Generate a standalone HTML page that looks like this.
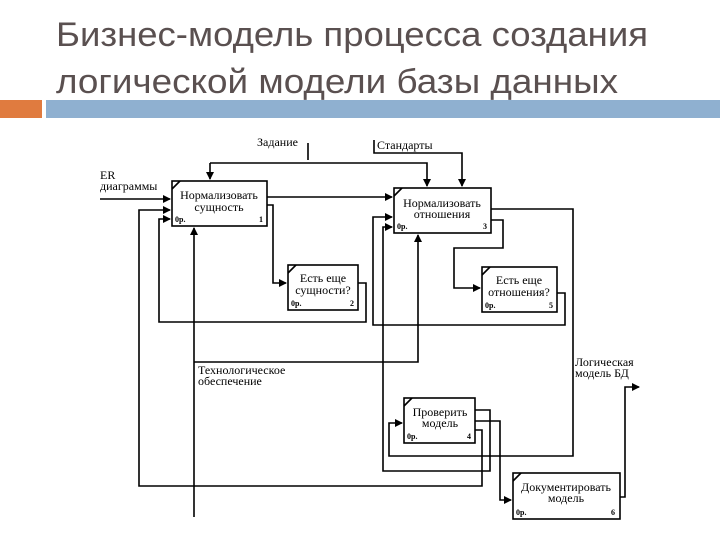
<!DOCTYPE html>
<html><head><meta charset="utf-8"><style>
body{margin:0;background:#fff}
svg{display:block}
.t{font-family:"Liberation Sans","DejaVu Sans",sans-serif;fill:#5a5050;font-size:34px}
.d{font-family:"Liberation Serif",serif;font-size:12px;fill:#000}
.s{font-family:"Liberation Serif",serif;font-size:8px;fill:#000;font-weight:bold}
</style></head><body>
<svg width="720" height="540" viewBox="0 0 720 540" xmlns="http://www.w3.org/2000/svg">
<defs><marker id="a" markerWidth="8" markerHeight="8" refX="7" refY="4" orient="auto" markerUnits="userSpaceOnUse"><path d="M0,0 L8,4 L0,8 Z" fill="#000"/></marker></defs>
<text class="t" x="56" y="46" textLength="592" lengthAdjust="spacingAndGlyphs">Бизнес-модель процесса создания</text>
<text class="t" x="56" y="93" textLength="562" lengthAdjust="spacingAndGlyphs">логической модели базы данных</text>
<rect x="0" y="100" width="42" height="18" fill="#e07b3f"/>
<rect x="46" y="100" width="674" height="18" fill="#8fb0d0"/>
<g fill="none" stroke="#000" stroke-width="1.6">
<rect x="172" y="181" width="95" height="45"/>
<rect x="288" y="265" width="70" height="45"/>
<rect x="394" y="188" width="97" height="45"/>
<rect x="482" y="267" width="75" height="45"/>
<rect x="404" y="398" width="71" height="45"/>
<rect x="513" y="473" width="107" height="46"/>
<path d="M172,189 L180,181 M288,273 L296,265 M394,196 L402,188 M482,275 L490,267 M404,406 L412,398 M513,481 L521,473"/>
<path d="M308,143 V160 M210,163 H427 V186" marker-end="url(#a)"/>
<path d="M210,163 V179" marker-end="url(#a)"/>
<path d="M374,140 V153 H462 V186" marker-end="url(#a)"/>
<path d="M100,199 H170" marker-end="url(#a)"/>
<path d="M267,197 H392" marker-end="url(#a)"/>
<path d="M267,205 H273 V283 H286" marker-end="url(#a)"/>
<path d="M358,283 H366 V322 H159 V219 H170" marker-end="url(#a)"/>
<path d="M475,430 H482 V486 H139 V210 H170" marker-end="url(#a)"/>
<path d="M194,517 V228" marker-end="url(#a)"/>
<path d="M194,362 H418 V235" marker-end="url(#a)"/>
<path d="M491,220 H503 V248 H454 V288 H480" marker-end="url(#a)"/>
<path d="M557,293 H565 V325 H373 V217 H392" marker-end="url(#a)"/>
<path d="M475,410 H490 V471 H383 V227 H392" marker-end="url(#a)"/>
<path d="M491,209 H573 V456 H389 V423 H402" marker-end="url(#a)"/>
<path d="M475,421 H500 V500 H511" marker-end="url(#a)"/>
<path d="M620,497 H625 V387 H639" marker-end="url(#a)"/>
</g>
<text class="d" x="257" y="146">Задание</text>
<text class="d" x="377" y="149">Стандарты</text>
<text class="d" x="100" y="179">ER</text>
<text class="d" x="100" y="190">диаграммы</text>
<text class="d" x="219" y="199" text-anchor="middle">Нормализовать</text>
<text class="d" x="219" y="211" text-anchor="middle">сущность</text>
<text class="s" x="175" y="222">0р.</text><text class="s" x="259" y="222">1</text>
<text class="d" x="323" y="282" text-anchor="middle">Есть еще</text>
<text class="d" x="323" y="294" text-anchor="middle">сущности?</text>
<text class="s" x="291" y="306">0р.</text><text class="s" x="350" y="306">2</text>
<text class="d" x="442" y="207" text-anchor="middle">Нормализовать</text>
<text class="d" x="442" y="218" text-anchor="middle">отношения</text>
<text class="s" x="397" y="229">0р.</text><text class="s" x="483" y="229">3</text>
<text class="d" x="519" y="284" text-anchor="middle">Есть еще</text>
<text class="d" x="519" y="296" text-anchor="middle">отношения?</text>
<text class="s" x="485" y="308">0р.</text><text class="s" x="549" y="308">5</text>
<text class="d" x="440" y="416" text-anchor="middle">Проверить</text>
<text class="d" x="440" y="427" text-anchor="middle">модель</text>
<text class="s" x="407" y="439">0р.</text><text class="s" x="467" y="439">4</text>
<text class="d" x="566" y="491" text-anchor="middle">Документировать</text>
<text class="d" x="566" y="502" text-anchor="middle">модель</text>
<text class="s" x="516" y="515">0р.</text><text class="s" x="611" y="515">6</text>
<text class="d" x="198" y="374">Технологическое</text>
<text class="d" x="198" y="385">обеспечение</text>
<text class="d" x="575" y="366">Логическая</text>
<text class="d" x="575" y="377">модель БД</text>
</svg>
</body></html>
